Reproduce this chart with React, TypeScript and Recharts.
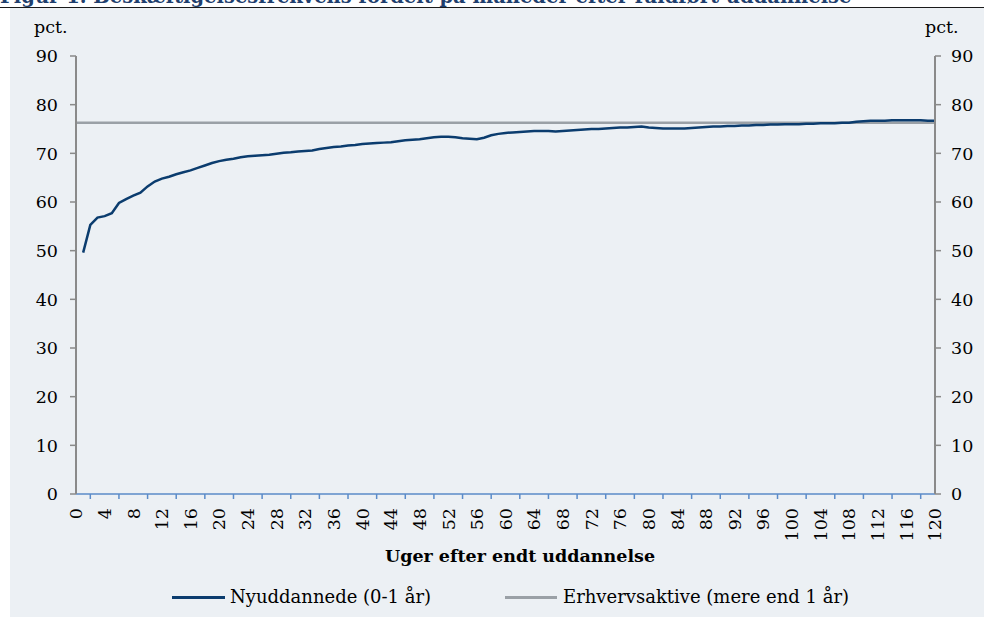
import React from "react";
import { LineChart, Line, XAxis, YAxis } from "recharts";

const weeks = [
  0, 1, 2, 3, 4, 5, 6, 7, 8, 9, 10, 11, 12, 13, 14, 15, 16, 17, 18, 19, 20,
  21, 22, 23, 24, 25, 26, 27, 28, 29, 30, 31, 32, 33, 34, 35, 36, 37, 38, 39, 40,
  41, 42, 43, 44, 45, 46, 47, 48, 49, 50, 51, 52, 53, 54, 55, 56, 57, 58, 59, 60,
  61, 62, 63, 64, 65, 66, 67, 68, 69, 70, 71, 72, 73, 74, 75, 76, 77, 78, 79, 80,
  81, 82, 83, 84, 85, 86, 87, 88, 89, 90, 91, 92, 93, 94, 95, 96, 97, 98, 99, 100,
  101, 102, 103, 104, 105, 106, 107, 108, 109, 110, 111, 112, 113, 114, 115, 116, 117, 118, 119, 120,
];

// Nyuddannede (0-1 år), week 0 has no value
const nyuddannede: (number | null)[] = [
  null,
  49.6, 55.3, 56.8, 57.1, 57.7, 59.8, 60.6, 61.3, 61.9, 63.2,
  64.2, 64.8, 65.2, 65.7, 66.1, 66.5, 67.0, 67.5, 68.0, 68.4,
  68.7, 68.9, 69.2, 69.4, 69.5, 69.6, 69.7, 69.9, 70.1, 70.2,
  70.4, 70.5, 70.6, 70.9, 71.1, 71.3, 71.4, 71.6, 71.7, 71.9,
  72.0, 72.1, 72.2, 72.3, 72.5, 72.7, 72.8, 72.9, 73.1, 73.3,
  73.4, 73.4, 73.3, 73.1, 73.0, 72.9, 73.2, 73.7, 74.0, 74.2,
  74.3, 74.4, 74.5, 74.6, 74.6, 74.6, 74.5, 74.6, 74.7, 74.8,
  74.9, 75.0, 75.0, 75.1, 75.2, 75.3, 75.3, 75.4, 75.5, 75.3,
  75.2, 75.1, 75.1, 75.1, 75.1, 75.2, 75.3, 75.4, 75.5, 75.5,
  75.6, 75.6, 75.7, 75.7, 75.8, 75.8, 75.9, 75.9, 76.0, 76.0,
  76.0, 76.1, 76.1, 76.2, 76.2, 76.2, 76.3, 76.3, 76.5, 76.6,
  76.7, 76.7, 76.7, 76.8, 76.8, 76.8, 76.8, 76.8, 76.7, 76.7,
];

// Erhvervsaktive (mere end 1 år): flat level
const erhvervsaktiveNiveau = 76.3;

const xTicks = [
  0, 2, 4, 6, 8, 10, 12, 14, 16, 18, 20, 22, 24, 26, 28, 30, 32, 34, 36, 38, 40,
  42, 44, 46, 48, 50, 52, 54, 56, 58, 60, 62, 64, 66, 68, 70, 72, 74, 76, 78, 80,
  82, 84, 86, 88, 90, 92, 94, 96, 98, 100, 102, 104, 106, 108, 110, 112, 114, 116, 118, 120,
];
const yTicks = [0, 10, 20, 30, 40, 50, 60, 70, 80, 90];

const seriesNames = ["Nyuddannede (0-1 år)", "Erhvervsaktive (mere end 1 år)"];
const titleText = "Figur 1. Beskæftigelsesfrekvens fordelt på måneder efter fuldført uddannelse";
const xAxisTitle = "Uger efter endt uddannelse";
const unitLabel = "pct.";

const data = weeks.map((w, i) => ({
  week: w,
  nyuddannede: nyuddannede[i],
  erhvervsaktive: erhvervsaktiveNiveau,
}));

const FONT = "'DejaVu Serif', serif";
const BLUE = "#0B3C6E";
const GREY = "#9AA0A6";
const AXIS_GREY = "#8A8A8A";
const XAXIS_BLUE = "#5B8BC9";
const TICK_MARGIN = 14;

const XTick = (props: any) => {
  const { x, y, payload } = props;
  const v = payload.value as number;
  if (v % 4 === 0) {
    return (
      <text
        x={x}
        y={y}
        dy="0.36em"
        textAnchor="end"
        transform={`rotate(-90 ${x} ${y})`}
        fill="#000"
        fontSize={17.5}
        fontFamily={FONT}
      >
        {v}
      </text>
    );
  }
  return (
    <line x1={x} x2={x} y1={y - TICK_MARGIN} y2={y - TICK_MARGIN + 5} stroke={XAXIS_BLUE} strokeWidth={1.5} />
  );
};

export default function App() {
  return (
    <div style={{ position: "absolute", left: 0, top: 0, width: 984, height: 617, background: "#fff", overflow: "hidden" }}>
      <svg width={984} height={10} style={{ position: "absolute", left: 0, top: 0 }}>
        <text x={0} y={3} fontFamily={FONT} fontWeight="bold" fontSize={19.5} fill="#1F3F6E">
          {titleText}
        </text>
      </svg>
      <div style={{ position: "absolute", left: 0, top: 6.5, width: 984, height: 1, background: "#1a1a1a" }} />
      <div style={{ position: "absolute", left: 10, top: 8, width: 974, height: 609, background: "#ECF0F4" }} />
      <div style={{ position: "absolute", left: 0, top: 0 }}>
        <LineChart width={984} height={617} data={data} margin={{ top: 56, right: 0, bottom: 73, left: 0 }}>
          <XAxis
            dataKey="week"
            type="number"
            domain={[0, 120]}
            ticks={xTicks}
            interval={0}
            height={50}
            tickLine={false}
            tickSize={0}
            tickMargin={TICK_MARGIN}
            axisLine={{ stroke: XAXIS_BLUE, strokeWidth: 1.5 }}
            tick={<XTick />}
          />
          <YAxis
            yAxisId="left"
            orientation="left"
            width={76}
            domain={[0, 90]}
            ticks={yTicks}
            interval={0}
            tickSize={6}
            tickMargin={12}
            axisLine={{ stroke: AXIS_GREY, strokeWidth: 2 }}
            tickLine={{ stroke: AXIS_GREY, strokeWidth: 1.5 }}
            tick={{ fill: "#000", fontSize: 17.5, fontFamily: FONT }}
          />
          <YAxis
            yAxisId="right"
            orientation="right"
            width={49}
            domain={[0, 90]}
            ticks={yTicks}
            interval={0}
            tickSize={6}
            tickMargin={10}
            axisLine={{ stroke: AXIS_GREY, strokeWidth: 2 }}
            tickLine={{ stroke: AXIS_GREY, strokeWidth: 1.5 }}
            tick={{ fill: "#000", fontSize: 17.5, fontFamily: FONT, textAnchor: "start" }}
          />
          <Line
            yAxisId="right"
            type="linear"
            dataKey="erhvervsaktive"
            name={seriesNames[1]}
            stroke={GREY}
            strokeWidth={2.5}
            dot={false}
            isAnimationActive={false}
          />
          <Line
            yAxisId="left"
            type="linear"
            dataKey="nyuddannede"
            name={seriesNames[0]}
            stroke={BLUE}
            strokeWidth={2.5}
            dot={false}
            connectNulls={false}
            isAnimationActive={false}
          />
        </LineChart>
      </div>
      <div style={{ position: "absolute", left: 34, top: 17, fontFamily: FONT, fontSize: 17.5, color: "#000", lineHeight: "20px" }}>
        {unitLabel}
      </div>
      <div style={{ position: "absolute", left: 925, top: 17, fontFamily: FONT, fontSize: 17.5, color: "#000", lineHeight: "20px" }}>
        {unitLabel}
      </div>
      <div
        style={{
          position: "absolute",
          left: 320,
          width: 400,
          top: 545,
          textAlign: "center",
          fontFamily: FONT,
          fontWeight: "bold",
          fontSize: 17.5,
          lineHeight: "22px",
          color: "#000",
        }}
      >
        {xAxisTitle}
      </div>
      <div style={{ position: "absolute", left: 172, top: 586, display: "flex", alignItems: "center", fontFamily: FONT, fontSize: 18, lineHeight: "22px", color: "#000" }}>
        <span style={{ display: "inline-block", width: 53, height: 3, background: BLUE, marginRight: 5 }} />
        <span>{seriesNames[0]}</span>
      </div>
      <div style={{ position: "absolute", left: 505, top: 586, display: "flex", alignItems: "center", fontFamily: FONT, fontSize: 18, lineHeight: "22px", color: "#000" }}>
        <span style={{ display: "inline-block", width: 52, height: 3, background: GREY, marginRight: 6 }} />
        <span>{seriesNames[1]}</span>
      </div>
    </div>
  );
}
